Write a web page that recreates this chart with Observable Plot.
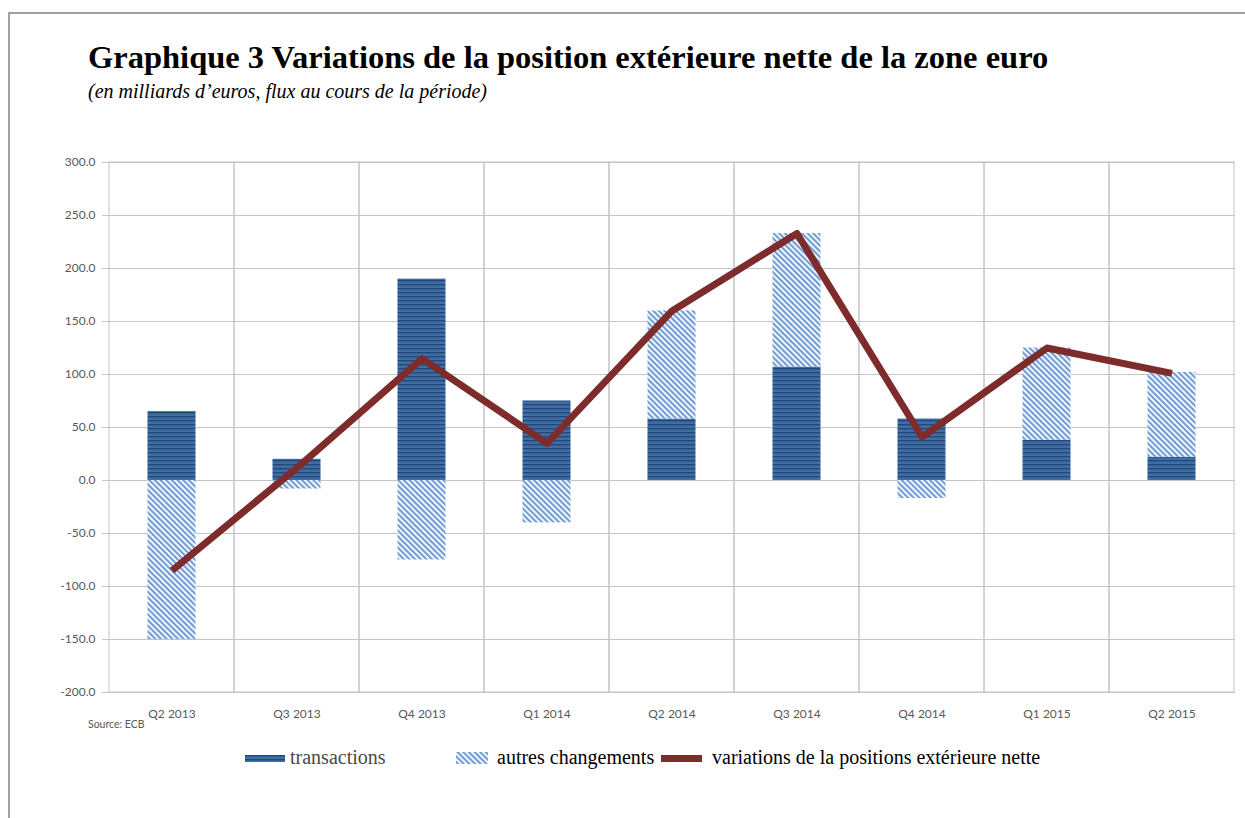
<!DOCTYPE html>
<html>
<head>
<meta charset="utf-8">
<script src="https://cdn.jsdelivr.net/npm/d3@7"></script>
<script src="https://cdn.jsdelivr.net/npm/@observablehq/plot@0.6"></script>
<style>
  html, body { margin: 0; padding: 0; background: #fff; }
  body { width: 1245px; height: 818px; position: relative; overflow: hidden; }
  #frame { position: absolute; left: 8px; top: 12px; width: 1240px; height: 810px;
           border-top: 2px solid #a0a0a0; border-left: 2px solid #a0a0a0; }
  #title { position: absolute; left: 88px; top: 39px; font: bold 32.5px "Liberation Serif", serif; color: #000; white-space: nowrap; }
  #subtitle { position: absolute; left: 88px; top: 80px; font: italic 20px "Liberation Serif", serif; color: #000; white-space: nowrap; }
  #chart { position: absolute; left: 0; top: 140px; }
  #source { position: absolute; left: 88px; top: 718px; font: 10.5px Lato, sans-serif; color: #595959; }
  .leg { position: absolute; font: 20px "Liberation Serif", serif; color: #000; white-space: nowrap; }
  .sw { position: absolute; }
</style>
</head>
<body>
<svg width="0" height="0" style="position:absolute">
  <defs>
    <pattern id="pTrans" patternUnits="userSpaceOnUse" width="6" height="4">
      <rect width="6" height="4" fill="#3f6ea6"></rect>
      <rect y="0" width="6" height="1.4" fill="#22497a"></rect>
    </pattern>
    <pattern id="pAutres" patternUnits="userSpaceOnUse" width="4" height="4" patternTransform="rotate(-45)">
      <rect width="4" height="4" fill="#ffffff"></rect>
      <rect x="0" width="2.2" height="4" fill="#729dd5"></rect>
    </pattern>
  </defs>
</svg>
<div id="frame"></div>
<div id="title">Graphique 3 Variations de la position extérieure nette de la zone euro</div>
<div id="subtitle">(en milliards d’euros, flux au cours de la période)</div>
<div id="chart"></div>
<div id="source">Source: ECB</div>
<div id="legend"></div>
<script>
// ---- data ----
const quarters = ["Q2 2013","Q3 2013","Q4 2013","Q1 2014","Q2 2014","Q3 2014","Q4 2014","Q1 2015","Q2 2015"];
const transactions = [65, 20, 190, 75, 58, 107, 58, 38, 22];
const autresChangements = [-150, -8, -75, -40, 102, 126, -17, 87, 80];
const variationsNettes = [-85, 12, 115, 35, 160, 233, 41, 125, 101];
const yTicks = [-200, -150, -100, -50, 0, 50, 100, 150, 200, 250, 300];
const seriesNames = ["transactions", "autres changements", "variations de la positions extérieure nette"];

const stacked = [];
quarters.forEach((q, i) => {
  stacked.push({q, series: seriesNames[0], value: transactions[i]});
  stacked.push({q, series: seriesNames[1], value: autresChangements[i]});
});
const net = quarters.map((q, i) => ({q, value: variationsNettes[i]}));

const gridColor = "#c4c4c4";
const lineColor = "#7d2b2b";

const chart = Plot.plot({
  width: 1245,
  height: 600,
  marginLeft: 108,
  marginRight: 10,
  marginTop: 22,
  marginBottom: 48,
  style: {fontFamily: "Lato, sans-serif", fontSize: "12px", color: "#595959", background: "transparent"},
  x: {type: "band", domain: quarters, padding: 0, label: null},
  y: {domain: [yTicks[0], yTicks[yTicks.length - 1]], label: null},
  color: {type: "ordinal", domain: seriesNames.slice(0, 2), range: ["url(#pTrans)", "url(#pAutres)"]},
  marks: [
    Plot.ruleY(yTicks, {stroke: gridColor, strokeWidth: 1}),
    Plot.barY(quarters, {x: d => d, y1: () => yTicks[0], y2: () => yTicks[yTicks.length - 1], fill: "none", stroke: gridColor, strokeWidth: 1, insetLeft: 0, insetRight: 0}),
    Plot.axisY({ticks: yTicks, tickFormat: d => d.toFixed(1), tickSize: 6, tickPadding: 7, stroke: gridColor, fill: "#595959", fontSize: 12}),
    Plot.axisX({tickSize: 0, tickPadding: 17, fill: "#595959", fontSize: 12}),
    Plot.barY(stacked, Plot.stackY({x: "q", y: "value", fill: "series", insetLeft: 38.5, insetRight: 38.5})),
    Plot.line(net, {x: "q", y: "value", stroke: lineColor, strokeWidth: 7, strokeLinejoin: "round", strokeLinecap: "butt"})
  ]
});
document.getElementById("chart").appendChild(chart);

// ---- legend ----
const legend = document.getElementById("legend");
const legItems = [
  {sw: `<svg class="sw" style="left:245px;top:755px" width="40" height="7"><rect width="40" height="7" fill="url(#pTrans)"/></svg>`,
   text: seriesNames[0], left: 290, color: "#4a4a4a"},
  {sw: `<svg class="sw" style="left:456px;top:752px" width="32" height="12"><rect width="32" height="12" fill="url(#pAutres)"/></svg>`,
   text: seriesNames[1], left: 497, color: "#000"},
  {sw: `<svg class="sw" style="left:661px;top:755px" width="41" height="7"><rect width="41" height="7" fill="${lineColor}"/></svg>`,
   text: seriesNames[2], left: 712, color: "#000"}
];
legend.innerHTML = legItems.map(it =>
  it.sw + `<div class="leg" style="left:${it.left}px;top:746px;color:${it.color}">${it.text}</div>`
).join("");
</script>
</body>
</html>
